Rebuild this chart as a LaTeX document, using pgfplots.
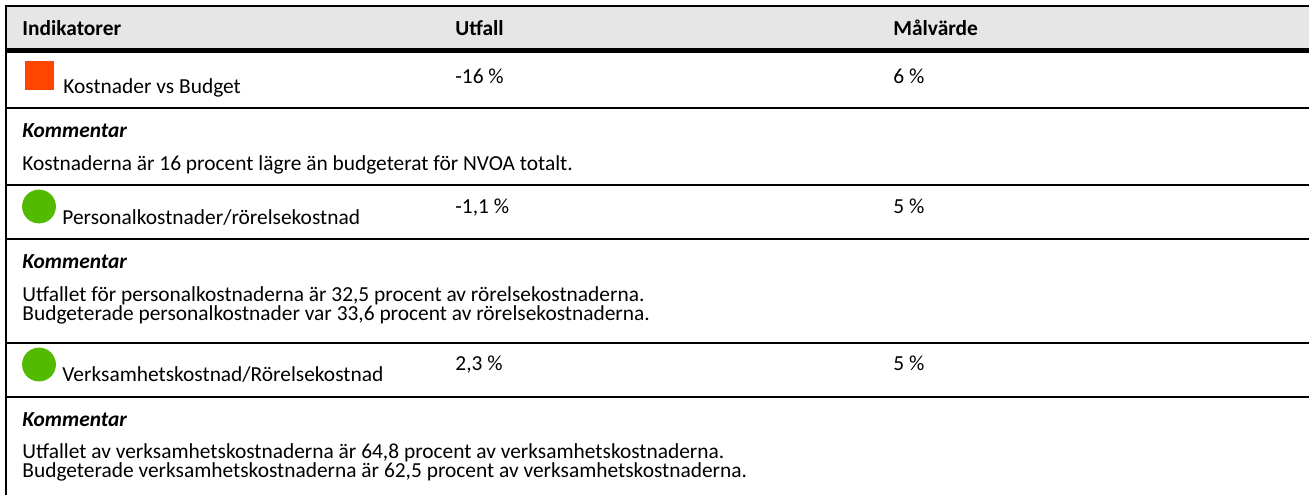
\documentclass[border=0pt]{standalone}
\usepackage{fontspec}
\setmainfont{Carlito}
\usepackage{pgfplots}
\pgfplotsset{compat=1.18}
\definecolor{hdr}{RGB}{230,230,230}
\definecolor{redsq}{RGB}{255,70,0}
\definecolor{grn}{RGB}{82,186,0}
\tikzset{T/.style={font=\fontsize{10.7}{12.5}\selectfont, anchor=base west, inner sep=0pt, text=black}}
\begin{document}
\begin{tikzpicture}
\begin{axis}[
  scale only axis, width=654.5pt, height=247.5pt,
  xmin=0, xmax=1309, ymin=0, ymax=495, y dir=reverse,
  hide axis, clip=false,
]
\coordinate (SW) at (rel axis cs:0,0);
\coordinate (NE) at (rel axis cs:1,1);
% header fill
\addplot[fill=hdr, draw=none] coordinates {(7,7) (1309,7) (1309,48) (7,48)} -- cycle;
% borders
\addplot[black, line width=1pt] coordinates {(5,6) (1309,6)};
\addplot[black, line width=2.6pt] coordinates {(5,50.5) (1309,50.5)};
\addplot[black, line width=1pt] coordinates {(5,108) (1309,108)};
\addplot[black, line width=1pt] coordinates {(5,185) (1309,185)};
\addplot[black, line width=1pt] coordinates {(5,238.5) (1309,238.5)};
\addplot[black, line width=1pt] coordinates {(5,342.5) (1309,342.5)};
\addplot[black, line width=1pt] coordinates {(5,396.5) (1309,396.5)};
\addplot[black, line width=1pt] coordinates {(6,5) (6,495)};
% icons
\addplot[only marks, mark=square*, mark size=7pt, color=redsq] coordinates {(39,75.5)};
\addplot[only marks, mark=*, mark size=8.25pt, color=grn] coordinates {(39,206.5) (39,364.5)};
% header text
\node[T] at (axis cs:22,35) {\bfseries Indikatorer};
\node[T] at (axis cs:455,35) {\bfseries Utfall};
\node[T] at (axis cs:893,35) {\bfseries Målvärde};
% row 1
\node[T] at (axis cs:63,93) {Kostnader vs Budget};
\node[T] at (axis cs:455,83) {-16 \%};
\node[T] at (axis cs:893,83) {6 \%};
\node[T] at (axis cs:22,137) {\bfseries\itshape Kommentar};
\node[T] at (axis cs:22,170) {Kostnaderna är 16 procent lägre än budgeterat för NVOA totalt.};
% row 2
\node[T] at (axis cs:62,224) {Personalkostnader/rörelsekostnad};
\node[T] at (axis cs:455,213) {-1,1 \%};
\node[T] at (axis cs:893,213) {5 \%};
\node[T] at (axis cs:22,268) {\bfseries\itshape Kommentar};
\node[T] at (axis cs:22,301) {Utfallet för personalkostnaderna är 32,5 procent av rörelsekostnaderna.};
\node[T] at (axis cs:22,320) {Budgeterade personalkostnader var 33,6 procent av rörelsekostnaderna.};
% row 3
\node[T] at (axis cs:62,381) {Verksamhetskostnad/Rörelsekostnad};
\node[T] at (axis cs:455,370) {2,3 \%};
\node[T] at (axis cs:893,370) {5 \%};
\node[T] at (axis cs:22,426) {\bfseries\itshape Kommentar};
\node[T] at (axis cs:22,458) {Utfallet av verksamhetskostnaderna är 64,8 procent av verksamhetskostnaderna.};
\node[T] at (axis cs:22,477) {Budgeterade verksamhetskostnaderna är 62,5 procent av verksamhetskostnaderna.};
\end{axis}
\pgfresetboundingbox
\useasboundingbox (SW) rectangle (NE);
\end{tikzpicture}
\end{document}
